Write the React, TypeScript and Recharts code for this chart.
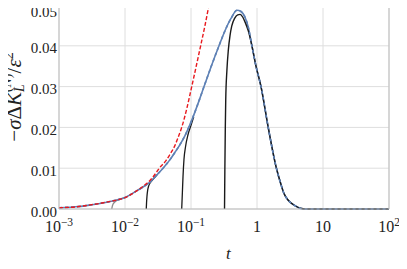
import { CartesianGrid, Line, LineChart, XAxis, YAxis } from 'recharts';

// t-values and curve heights (log t axis, linear y)
const fullCurve = [
  { t: 0.001, v: 0.0003 },
  { t: 0.002, v: 0.0006 },
  { t: 0.003, v: 0.001 },
  { t: 0.005, v: 0.0016 },
  { t: 0.0075, v: 0.0022 },
  { t: 0.01, v: 0.0028 },
  { t: 0.0152, v: 0.0045 },
  { t: 0.02, v: 0.0057 },
  { t: 0.0239, v: 0.0066 },
  { t: 0.0306, v: 0.0084 },
  { t: 0.0377, v: 0.01 },
  { t: 0.0481, v: 0.0121 },
  { t: 0.0572, v: 0.0139 },
  { t: 0.0681, v: 0.0158 },
  { t: 0.0811, v: 0.018 },
  { t: 0.1, v: 0.0213 },
  { t: 0.1322, v: 0.0265 },
  { t: 0.1574, v: 0.03 },
  { t: 0.2009, v: 0.0348 },
  { t: 0.2656, v: 0.04 },
  { t: 0.3275, v: 0.0437 },
  { t: 0.4037, v: 0.0467 },
  { t: 0.4977, v: 0.0487 },
  { t: 0.5723, v: 0.0484 },
  { t: 0.658, v: 0.047 },
  { t: 0.7356, v: 0.0446 },
  { t: 0.8375, v: 0.04 },
  { t: 0.9656, v: 0.035 },
  { t: 1.15, v: 0.03 },
  { t: 1.479, v: 0.02 },
  { t: 1.968, v: 0.01 },
  { t: 2.28, v: 0.0063 },
  { t: 2.565, v: 0.0038 },
  { t: 2.95, v: 0.0022 },
  { t: 3.77, v: 0.0008 },
  { t: 4.49, v: 0.0002 },
  { t: 5.52, v: 0 },
  { t: 10, v: 0 },
  { t: 100, v: 0 },
];

const leadingOrder = [
  { t: 0.001, v: 0.0003 },
  { t: 0.002, v: 0.0006 },
  { t: 0.003, v: 0.001 },
  { t: 0.005, v: 0.0016 },
  { t: 0.0075, v: 0.0022 },
  { t: 0.01, v: 0.0028 },
  { t: 0.0152, v: 0.0045 },
  { t: 0.02, v: 0.0059 },
  { t: 0.0239, v: 0.007 },
  { t: 0.0306, v: 0.0092 },
  { t: 0.0331, v: 0.01 },
  { t: 0.042, v: 0.0119 },
  { t: 0.0481, v: 0.0134 },
  { t: 0.0572, v: 0.0156 },
  { t: 0.064, v: 0.0176 },
  { t: 0.0723, v: 0.02 },
  { t: 0.086, v: 0.0245 },
  { t: 0.1026, v: 0.03 },
  { t: 0.12, v: 0.035 },
  { t: 0.14, v: 0.04 },
  { t: 0.163, v: 0.045 },
  { t: 0.1874, v: 0.05 },
];

const startEarly = [
  { t: 0.0063, v: 0 },
  { t: 0.0064, v: 0.0006 },
  { t: 0.0066, v: 0.0012 },
  { t: 0.007, v: 0.0017 },
  { t: 0.0075, v: 0.0021 },
  { t: 0.0085, v: 0.0024 },
  { t: 0.01, v: 0.0028 },
];

const startSecond = [
  { t: 0.021, v: 0 },
  { t: 0.0212, v: 0.0015 },
  { t: 0.0215, v: 0.003 },
  { t: 0.022, v: 0.0045 },
  { t: 0.0228, v: 0.0056 },
  { t: 0.024, v: 0.0064 },
  { t: 0.027, v: 0.0074 },
  { t: 0.0306, v: 0.0084 },
];

const startThird = [
  { t: 0.0723, v: 0 },
  { t: 0.074, v: 0.004 },
  { t: 0.0757, v: 0.008 },
  { t: 0.0783, v: 0.0122 },
  { t: 0.0825, v: 0.0152 },
  { t: 0.09, v: 0.0182 },
  { t: 0.1, v: 0.0205 },
  { t: 0.11, v: 0.0226 },
];

const startLate = [
  { t: 0.322, v: 0 },
  { t: 0.326, v: 0.01 },
  { t: 0.331, v: 0.02 },
  { t: 0.336, v: 0.0268 },
  { t: 0.35, v: 0.034 },
  { t: 0.368, v: 0.039 },
  { t: 0.39, v: 0.0425 },
  { t: 0.414, v: 0.0448 },
  { t: 0.46, v: 0.0468 },
  { t: 0.51, v: 0.0476 },
  { t: 0.555, v: 0.0477 },
  { t: 0.61, v: 0.047 },
  { t: 0.66, v: 0.0458 },
  { t: 0.74, v: 0.0436 },
  { t: 0.8375, v: 0.04 },
  { t: 0.9656, v: 0.035 },
  { t: 1.15, v: 0.03 },
  { t: 1.479, v: 0.02 },
  { t: 1.968, v: 0.01 },
  { t: 2.28, v: 0.0063 },
  { t: 2.565, v: 0.0038 },
  { t: 2.95, v: 0.0022 },
  { t: 3.77, v: 0.0008 },
  { t: 4.49, v: 0.0002 },
  { t: 5.52, v: 0 },
  { t: 10, v: 0 },
  { t: 100, v: 0 },
];

const xTicks = [0.001, 0.01, 0.1, 1, 10, 100];
const yTicks = [0, 0.01, 0.02, 0.03, 0.04, 0.05];
const yMinorTicks = [
  0.002, 0.004, 0.006, 0.008, 0.012, 0.014, 0.016, 0.018, 0.022, 0.024, 0.026, 0.028,
  0.032, 0.034, 0.036, 0.038, 0.042, 0.044, 0.046, 0.048,
];

const FONT = "'Liberation Serif', 'Times New Roman', serif";
const BLUE = '#5e81b5';
const FRAME = '#bdbdbd';
const INK = '#222';

function LogTick({ x, payload }: any) {
  const exp = Math.round(Math.log10(payload.value));
  const base = { x, y: 232, textAnchor: 'middle' as const, fontFamily: FONT, fontSize: 16, fill: INK };
  if (exp === 0) return <text {...base}>1</text>;
  if (exp === 1) return <text {...base}>10</text>;
  return (
    <text {...base}>
      10
      <tspan fontSize={11.5} dy={-6}>
        {exp < 0 ? `\u2212${-exp}` : exp}
      </tspan>
    </text>
  );
}

function ValueTick({ x, y, payload }: any) {
  return (
    <text x={x} y={y + 7.5} textAnchor="end" fontFamily={FONT} fontSize={15} fill={INK}>
      {payload.value.toFixed(2)}
    </text>
  );
}

export default function App() {
  const lineProps = { dataKey: 'v', type: 'monotone' as const, dot: false, activeDot: false, isAnimationActive: false };
  return (
    <div style={{ margin: '-8px 0 0 -8px', width: 407, height: 269 }}>
      <LineChart width={407} height={269} margin={{ top: 5, right: 18, bottom: 0, left: 0 }}>
        <CartesianGrid stroke="#dedede" />
        <XAxis
          dataKey="t"
          type="number"
          scale="log"
          domain={[0.001, 100]}
          allowDataOverflow
          ticks={xTicks}
          height={60}
          tickLine={false}
          axisLine={{ stroke: FRAME }}
          tick={<LogTick />}
        />
        <XAxis
          xAxisId="top"
          orientation="top"
          mirror
          type="number"
          scale="log"
          domain={[0.001, 100]}
          ticks={xTicks}
          tick={false}
          tickLine={false}
          axisLine={{ stroke: FRAME }}
        />
        <YAxis
          type="number"
          domain={[0, 0.05]}
          ticks={yTicks}
          width={59}
          tickSize={0}
          tickMargin={2}
          tickLine={false}
          axisLine={{ stroke: FRAME }}
          tick={<ValueTick />}
        />
        <YAxis
          yAxisId="leftMinor"
          mirror
          type="number"
          domain={[0, 0.05]}
          ticks={yMinorTicks}
          tick={false}
          tickSize={3}
          tickLine={{ stroke: FRAME }}
          axisLine={false}
        />
        <YAxis
          yAxisId="rightMinor"
          orientation="right"
          mirror
          type="number"
          domain={[0, 0.05]}
          ticks={yMinorTicks}
          tick={false}
          tickSize={3}
          tickLine={{ stroke: FRAME }}
          axisLine={{ stroke: FRAME }}
        />
        <Line {...lineProps} data={startEarly} stroke="#8c8c8c" strokeWidth={1.3} />
        <Line {...lineProps} data={startSecond} stroke="#1a1a1a" strokeWidth={1.3} />
        <Line {...lineProps} data={startThird} stroke="#1a1a1a" strokeWidth={1.3} />
        <Line {...lineProps} data={fullCurve} stroke={BLUE} strokeWidth={1.6} />
        <Line {...lineProps} data={startLate} stroke="#1a1a1a" strokeWidth={1.4} />
        <Line {...lineProps} data={fullCurve} stroke={BLUE} strokeWidth={1.6} strokeDasharray="3 3" />
        <Line {...lineProps} data={leadingOrder} stroke="#e8191e" strokeWidth={1.4} strokeDasharray="4 2" />
        <text transform="translate(21,97) rotate(-90)" textAnchor="middle" fontFamily={FONT} fontSize={21} fill={INK}>
          {'\u2212'}
          <tspan fontStyle="italic">σ</tspan>Δ<tspan fontStyle="italic">K</tspan>
          <tspan fontStyle="italic" fontSize={14} dy={3}>
            L
          </tspan>
          <tspan fontSize={14} dx={-8} dy={-13}>
            (<tspan fontStyle="italic">N</tspan>)
          </tspan>
          <tspan dy={10}>/</tspan>
          <tspan fontStyle="italic">ε</tspan>
          <tspan fontSize={14} dy={-8}>
            2
          </tspan>
        </text>
        <text x={226} y={259} fontFamily={FONT} fontSize={17} fontStyle="italic" fill={INK}>
          t
        </text>
      </LineChart>
    </div>
  );
}
